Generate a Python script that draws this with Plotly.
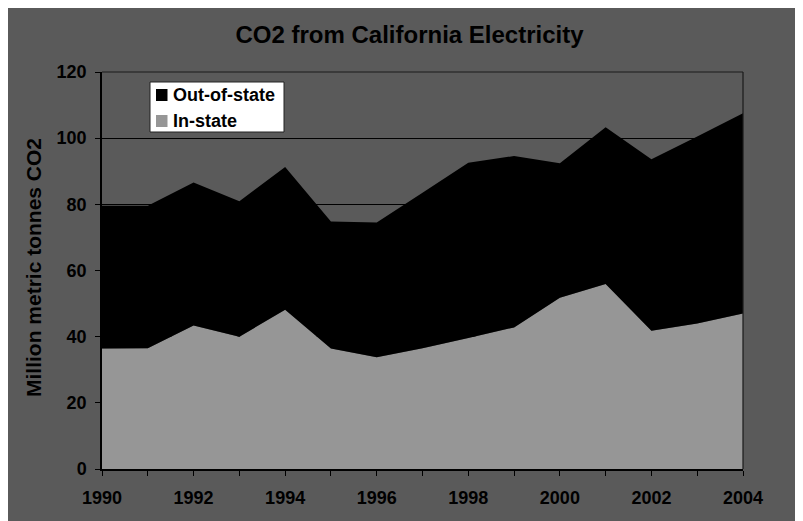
import plotly.graph_objects as go

years = list(range(1990, 2005))
in_state = [36.4, 36.5, 43.4, 40.0, 48.1, 36.4, 33.8, 36.5, 39.6, 42.8, 51.8, 55.9, 41.8, 44.0, 47.0]
total = [79.6, 79.6, 86.6, 80.9, 91.3, 74.8, 74.5, 83.5, 92.6, 94.6, 92.4, 103.3, 93.6, 100.5, 107.5]
out_state = [round(t - i, 1) for t, i in zip(total, in_state)]
x_ticks = [1990, 1992, 1994, 1996, 1998, 2000, 2002, 2004]
y_ticks = [0, 20, 40, 60, 80, 100, 120]
series_names = ["Out-of-state", "In-state"]
series_colors = ["#000000", "#969696"]

W, H = 803, 521
OFF = 8  # page body margin
PL, PR, PT, PB = 102, 743, 72, 469  # plot area in screen pixels
pw, ph = PR - PL, PB - PT

def px_x(s):
    return (s - PL) / pw

def px_y(s):
    return (PB - s) / ph

fig = go.Figure()
fig.add_trace(go.Scatter(x=years, y=in_state, name="In-state", stackgroup="one",
                         mode="none", fillcolor="#969696", showlegend=False))
fig.add_trace(go.Scatter(x=years, y=out_state, name="Out-of-state", stackgroup="one",
                         mode="none", fillcolor="#000000", showlegend=False))

font = dict(family="Liberation Sans, Arial, sans-serif", color="#000000")

shapes = [
    dict(type="line", xref="paper", yref="paper", x0=0, x1=1, y0=1, y1=1,
         line=dict(color="#1a1a1a", width=1.2), layer="above"),
    dict(type="line", xref="paper", yref="paper", x0=1, x1=1, y0=0, y1=1,
         line=dict(color="#1a1a1a", width=1.2), layer="above"),
    dict(type="rect", xref="paper", yref="paper",
         x0=px_x(6.5), x1=px_x(830), y0=px_y(4.5), y1=px_y(560),
         line=dict(color="#1a1a1a", width=1.5), fillcolor="rgba(0,0,0,0)"),
    # legend box
    dict(type="rect", xref="paper", yref="paper",
         x0=px_x(150), x1=px_x(284), y0=px_y(82), y1=px_y(132),
         line=dict(color="#222222", width=1), fillcolor="#ffffff", layer="above"),
]
annotations = [
    dict(text="<b>Million metric tonnes CO2</b>", xref="paper", yref="paper",
         x=px_x(33), y=px_y(268), textangle=-90, showarrow=False,
         xanchor="center", yanchor="middle", font=dict(**font, size=21)),
]
leg_rows = [95, 121]
for name, color, yc in zip(series_names, series_colors, leg_rows):
    shapes.append(dict(type="rect", xref="paper", yref="paper",
                       x0=px_x(156), x1=px_x(167.5), y0=px_y(yc - 6), y1=px_y(yc + 6),
                       line=dict(width=0), fillcolor=color, layer="above"))
    annotations.append(dict(text=f"<b>{name}</b>", xref="paper", yref="paper",
                            x=px_x(171), y=px_y(yc), showarrow=False,
                            xanchor="left", yanchor="middle", font=dict(**font, size=18)))

fig.update_layout(
    width=W, height=H,
    margin=dict(l=PL - OFF, r=W - (PR - OFF), t=PT - OFF, b=H - (PB - OFF)),
    paper_bgcolor="#5a5a5a",
    plot_bgcolor="#5a5a5a",
    font=dict(**font, size=18),
    title=dict(text="<b>CO2 from California Electricity</b>", x=0.5, xanchor="center",
               xref="container", y=1 - (35 - OFF) / H, yanchor="middle",
               font=dict(**font, size=24)),
    showlegend=False,
    xaxis=dict(range=[1990, 2004], tickmode="array", tickvals=x_ticks,
               ticktext=[f"<b>{v}</b>" for v in x_ticks],
               showgrid=False, showline=True, linecolor="#000000", linewidth=1.5,
               ticks="outside", ticklen=5, tickcolor="#000000",
               minor=dict(ticks="outside", ticklen=5, tickcolor="#000000", dtick=1, showgrid=False),
               zeroline=False, tickfont=dict(**font, size=18), ticklabelstandoff=7),
    yaxis=dict(range=[0, 120], tickmode="array", tickvals=y_ticks,
               ticktext=[f"<b>{v}</b>" for v in y_ticks],
               showgrid=True, gridcolor="#000000", gridwidth=1,
               showline=True, linecolor="#000000", linewidth=1.5,
               ticks="outside", ticklen=5, tickcolor="#000000",
               zeroline=False, tickfont=dict(**font, size=18), ticklabelstandoff=5),
    shapes=shapes,
    annotations=annotations,
)

fig.write_html("out.html")
